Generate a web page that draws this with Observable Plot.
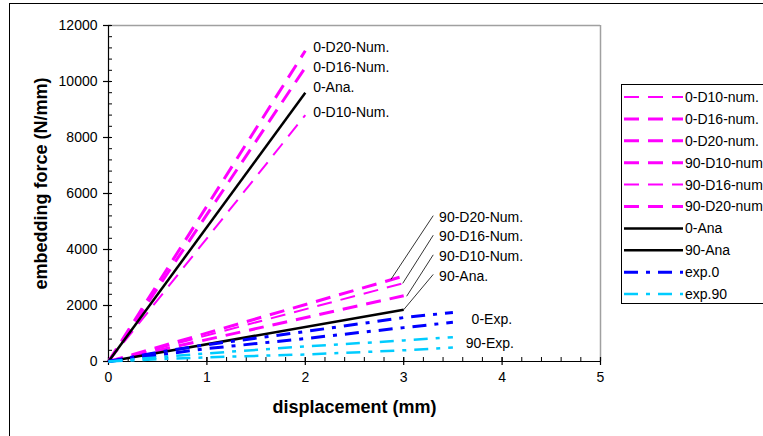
<!DOCTYPE html>
<html>
<head>
<meta charset="utf-8">
<script src="https://cdn.jsdelivr.net/npm/d3@7"></script>
<script src="https://cdn.jsdelivr.net/npm/@observablehq/plot@0.6"></script>
<style>
  html, body { margin: 0; padding: 0; background: #fff; }
  #wrap { position: relative; width: 763px; height: 436px; overflow: hidden; background: #fff;
          font-family: "Liberation Sans", Arial, sans-serif; }
  #outer { position: absolute; left: 9px; top: 3px; width: 900px; height: 600px; border: 1.5px solid #000; box-sizing: border-box; }
  #chart { position: absolute; left: 0; top: 0; }
  #legend { position: absolute; left: 621px; top: 84px; width: 200px; height: 220px; border: 1px solid #000; background: #fff; box-sizing: border-box; }
</style>
</head>
<body>
<div id="wrap">
  <div id="outer"></div>
  <div id="chart"></div>
  <div id="legend"></div>
</div>
<script>
// ---- data ----
const x0Num = [0, 2];
const x90Num = [0, 3];
const f0D10 = [0, 8800];
const f0D16 = [0, 10500];
const f0D20 = [0, 11100];
const f0Ana = [0, 9600];
const f90D10 = [0, 2350];
const f90D16 = [0, 2800];
const f90D20 = [0, 3050];
const f90Ana = [0, 1850];

const xExp = [0, 0.5, 1, 2, 3, 3.5];
const fExp0a = [0, 330, 600, 1070, 1570, 1750];
const fExp0b = [0, 230, 460, 820, 1210, 1400];
const fExp90a = [0, 150, 290, 540, 750, 870];
const fExp90b = [0, 80, 150, 250, 400, 500];

const xMajor = [0, 1, 2, 3, 4, 5];
const xMinor = d3.range(0, 5.0001, 0.2).map(v => +v.toFixed(1));
const yMajor = [0, 2000, 4000, 6000, 8000, 10000, 12000];
const yMinor = d3.range(0, 12001, 400);

const legendNames = ["0-D10-num.", "0-D16-num.", "0-D20-num.", "90-D10-num", "90-D16-num", "90-D20-num", "0-Ana", "90-Ana", "exp.0", "exp.90"];

const labels0 = ["0-D20-Num.", "0-D16-Num.", "0-Ana.", "0-D10-Num."];
const labels0X = 2.08;
const labels0Y = [11200, 10500, 9800, 8900];

const labels90 = ["90-D20-Num.", "90-D16-Num.", "90-D10-Num.", "90-Ana."];
const labels90X = 3.36;
const labels90Y = [5150, 4450, 3750, 3050];
const leaderStartX = 3.30;
const leaderEndX = [2.87, 2.99, 3.03, 3.0];
const leaderEndY = [2930, 2790, 2330, 1850];

const labelsExp = ["0-Exp.", "90-Exp."];
const labelsExpX = [3.69, 3.63];
const labelsExpY = [1500, 640];

// ---- styles ----
const MAG = "#FF00FF", BLU = "#0000FF", CYA = "#00CCFF";
const series = [
  {name: legendNames[0], xs: x0Num, ys: f0D10, stroke: MAG, w: 2, dash: "15,9"},
  {name: legendNames[1], xs: x0Num, ys: f0D16, stroke: MAG, w: 3, dash: "15,9"},
  {name: legendNames[2], xs: x0Num, ys: f0D20, stroke: MAG, w: 3, dash: "15,9"},
  {name: legendNames[3], xs: x90Num, ys: f90D10, stroke: MAG, w: 3, dash: "15,9"},
  {name: legendNames[4], xs: x90Num, ys: f90D16, stroke: MAG, w: 2, dash: "15,9"},
  {name: legendNames[5], xs: x90Num, ys: f90D20, stroke: MAG, w: 3, dash: "15,9"},
  {name: legendNames[6], xs: x0Num, ys: f0Ana, stroke: "#000", w: 2.5, dash: null},
  {name: legendNames[7], xs: x90Num, ys: f90Ana, stroke: "#000", w: 2.5, dash: null},
  {name: legendNames[8], xs: xExp, ys: fExp0a, stroke: BLU, w: 3, dash: "14,8,4,8"},
  {name: legendNames[8], xs: xExp, ys: fExp0b, stroke: BLU, w: 3, dash: "14,8,4,8", noLegend: true},
  {name: legendNames[9], xs: xExp, ys: fExp90a, stroke: CYA, w: 2.5, dash: "14,8,4,8"},
  {name: legendNames[9], xs: xExp, ys: fExp90b, stroke: CYA, w: 2.5, dash: "14,8,4,8", noLegend: true}
];

const FONT = "'Liberation Sans', Arial, sans-serif";
const blank = () => "";

const lineMarks = series.map(s => Plot.line(d3.zip(s.xs, s.ys), {
  x: d => d[0], y: d => d[1], stroke: s.stroke, strokeWidth: s.w,
  strokeDasharray: s.dash || undefined, strokeLinecap: "butt"
}));

const plot = Plot.plot({
  width: 763, height: 436,
  marginLeft: 108, marginRight: 163, marginTop: 25, marginBottom: 75,
  x: {domain: [0, 5]},
  y: {domain: [0, 12000]},
  style: {fontFamily: FONT, fontSize: "14px", background: "transparent", color: "#000"},
  marks: [
    Plot.ruleY([12000], {stroke: "#a0a0a0", strokeWidth: 1.5}),
    Plot.ruleX([5], {stroke: "#a0a0a0", strokeWidth: 1.5}),
    Plot.ruleX([0], {stroke: "#000", strokeWidth: 1.2}),
    Plot.ruleY([0], {stroke: "#000", strokeWidth: 1.2}),
    // ticks
    Plot.axisX({ticks: xMajor, tickSize: 8, dy: -4, tickFormat: blank, label: null, strokeWidth: 1.2}),
    Plot.axisX({ticks: xMinor, tickSize: 4, dy: -4, tickFormat: blank, label: null}),
    Plot.axisX({ticks: xMajor, tickSize: 0, tickPadding: 11, tickFormat: d => String(d), label: null, fontSize: 14}),
    Plot.axisY({ticks: yMajor, tickSize: 8, dx: 3, tickFormat: blank, label: null, strokeWidth: 1.2}),
    Plot.axisY({ticks: yMinor, tickSize: 4, dx: 4, tickFormat: blank, label: null}),
    Plot.axisY({ticks: yMajor, tickSize: 0, tickPadding: 11, tickFormat: d => String(d), label: null, fontSize: 14}),
    // data lines
    ...lineMarks,
    // annotations
    Plot.text(labels0, {x: () => labels0X, y: (d, i) => labels0Y[i], text: d => d, textAnchor: "start", fontSize: 14}),
    Plot.text(labels90, {x: () => labels90X, y: (d, i) => labels90Y[i], text: d => d, textAnchor: "start", fontSize: 14}),
    Plot.link(labels90, {x1: () => leaderStartX, y1: (d, i) => labels90Y[i] + 60, x2: (d, i) => leaderEndX[i], y2: (d, i) => leaderEndY[i], stroke: "#000", strokeWidth: 0.8}),
    Plot.text(labelsExp, {x: (d, i) => labelsExpX[i], y: (d, i) => labelsExpY[i], text: d => d, textAnchor: "start", fontSize: 14}),
    // axis titles
    Plot.text(["displacement (mm)"], {frameAnchor: "bottom", dy: 51, text: d => d, fontWeight: "bold", fontSize: 18}),
    Plot.text(["embedding force (N/mm)"], {frameAnchor: "left", dx: -67, dy: -10, rotate: -90, textAnchor: "middle", lineAnchor: "middle", text: d => d, fontWeight: "bold", fontSize: 18})
  ]
});
document.getElementById("chart").appendChild(plot);

// ---- legend ----
const leg = d3.select("#legend").append("svg").attr("width", 200).attr("height", 220)
  .style("font-family", FONT).style("font-size", "14px");
const legItems = series.filter(s => !s.noLegend);
legItems.forEach((s, i) => {
  const y = 12 + i * 21.9;
  leg.append("line").attr("x1", 2).attr("x2", 61).attr("y1", y).attr("y2", y)
    .attr("stroke", s.stroke).attr("stroke-width", s.w)
    .attr("stroke-dasharray", s.dash || null);
  leg.append("text").attr("x", 63).attr("y", y).attr("dy", "0.35em").text(s.name);
});
</script>
</body>
</html>
